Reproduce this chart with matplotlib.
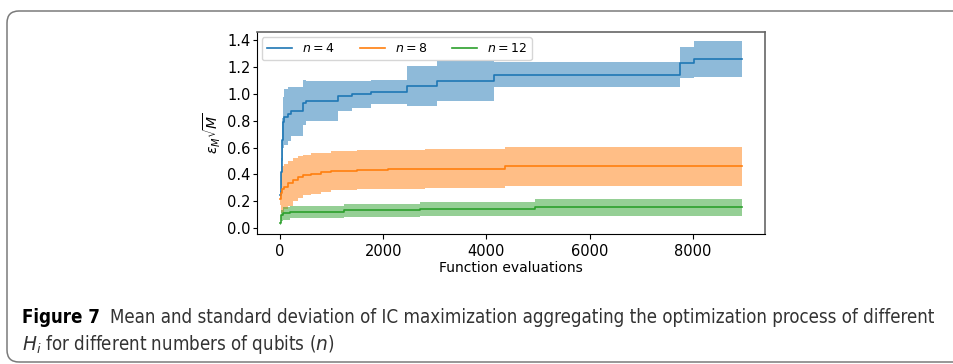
import numpy as np
import matplotlib

matplotlib.use('Agg')
import matplotlib.pyplot as plt
from matplotlib import font_manager
from matplotlib.patches import FancyBboxPatch

# step breakpoints (function evaluations), mean and std of the running best
x_n4 = [0, 10, 20, 30, 40, 50, 60, 71, 150, 213, 440, 500, 1117, 1400, 1760, 2460, 3050, 4140, 7745, 8015]
mean_n4 = [0.25, 0.30, 0.42, 0.55, 0.66, 0.74, 0.79, 0.83, 0.85, 0.87, 0.935, 0.95, 0.983, 0.997, 1.015,
           1.06, 1.094, 1.144, 1.233, 1.258]
std_n4 = [0.03, 0.06, 0.10, 0.13, 0.16, 0.18, 0.19, 0.21, 0.20, 0.18, 0.17, 0.15, 0.11, 0.10, 0.09,
          0.15, 0.148, 0.095, 0.115, 0.135]

x_n8 = [0, 15, 40, 80, 150, 250, 340, 450, 600, 800, 990, 1500, 2100, 2800, 4360]
mean_n8 = [0.22, 0.26, 0.29, 0.31, 0.333, 0.36, 0.38, 0.395, 0.407, 0.418, 0.427, 0.437, 0.44, 0.444, 0.462]
std_n8 = [0.05, 0.15, 0.17, 0.17, 0.165, 0.16, 0.155, 0.15, 0.15, 0.145, 0.145, 0.145, 0.145, 0.145, 0.145]

x_n12 = [0, 10, 25, 50, 200, 1240, 2710, 4940]
mean_n12 = [0.035, 0.07, 0.095, 0.11, 0.122, 0.133, 0.144, 0.156]
std_n12 = [0.01, 0.03, 0.04, 0.046, 0.045, 0.05, 0.05, 0.062]

x_end = 8950
series = [
    (x_n4, mean_n4, std_n4, r'$n = 4$', 'tab:blue'),
    (x_n8, mean_n8, std_n8, r'$n = 8$', 'tab:orange'),
    (x_n12, mean_n12, std_n12, r'$n = 12$', 'tab:green'),
]

caption_bold = 'Figure 7'
caption_1 = 'Mean and standard deviation of IC maximization aggregating the optimization process of different'
caption_2 = r'$H_i$ for different numbers of qubits ($n$)'

# condensed face for the caption if the DejaVu condensed file is around
condensed = any(f.name == 'DejaVu Sans' and f.stretch == 'condensed'
                for f in font_manager.fontManager.ttflist)
cap_stretch = 'condensed' if condensed else 'normal'
plt.rcParams['mathtext.fontset'] = 'dejavusans'

W, H = 954, 364
fig = plt.figure(figsize=(W / 100, H / 100), dpi=100)

# rounded frame around figure and caption
frame = FancyBboxPatch((7 / 100, 2 / 100), 10.0, (H - 11 - 2) / 100,
                       boxstyle='round,pad=0,rounding_size=0.12',
                       transform=fig.dpi_scale_trans, fill=False,
                       edgecolor='#7a7a7a', linewidth=1.1)
fig.patches.append(frame)

ax = fig.add_axes((257 / W, 1 - 234 / H, (765 - 257) / W, (234 - 32) / H))

for xs, m, s, label, color in series:
    xs = np.array(xs + [x_end], dtype=float)
    m = np.array(m + [m[-1]])
    s = np.array(s + [s[-1]])
    ax.plot(xs, m, drawstyle='steps-post', color=color, lw=1.2, label=label)
    ax.fill_between(xs, m - s, m + s, step='post', color=color, alpha=0.5, lw=0)

ax.set_yticks(np.arange(0, 1.41, 0.2))
ax.set_xticks([0, 2000, 4000, 6000, 8000])
ax.tick_params(labelsize=10.5)
ax.tick_params(axis='y', length=3, pad=1.5)
ax.set_xlabel('Function evaluations', fontsize=10, labelpad=2)
ax.set_ylabel(r'$\varepsilon_M\sqrt{M}$', fontsize=10, labelpad=3)
for side in ('top', 'right'):
    ax.spines[side].set_color('#666666')
    ax.spines[side].set_linewidth(1.2)
ax.legend(loc='upper left', ncol=3, fontsize=9, handlelength=2.0, columnspacing=2.0,
          borderaxespad=0.4)

# caption: body line sized to span the frame, other pieces share its size
r = fig.canvas.get_renderer()
body = fig.text(110 / W, 1 - 323 / H, caption_1, fontsize=14, fontstretch=cap_stretch,
                color='#333333')
size = 14 * 830 / body.get_window_extent(renderer=r).width
body.set_fontsize(size)
fig.text(22 / W, 1 - 323 / H, caption_bold, fontsize=size, fontstretch=cap_stretch,
         fontweight='bold', color='black')
fig.text(22 / W, 1 - 350 / H, caption_2, fontsize=size, fontstretch=cap_stretch,
         color='#333333')

plt.savefig('out.png', dpi=100)
